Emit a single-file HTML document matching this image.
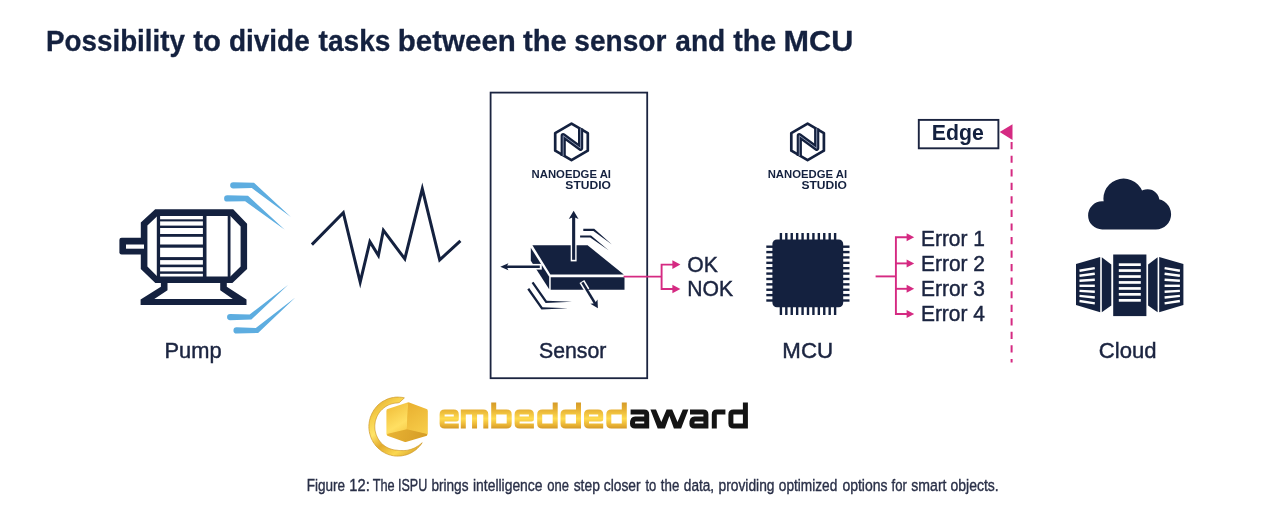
<!DOCTYPE html>
<html>
<head>
<meta charset="utf-8">
<title>Possibility to divide tasks between the sensor and the MCU</title>
<style>
  html, body { margin: 0; padding: 0; background: #ffffff; overflow: hidden; }
  body { width: 1283px; height: 523px; overflow: hidden; position: relative;
         font-family: "Liberation Sans", sans-serif; }
  svg { position: absolute; left: 0; top: 0; display: block; filter: blur(0.45px); }
  text { font-family: "Liberation Sans", sans-serif; }
  #lPump,#lSensor,#lMCU,#lCloud,#tOK,#tNOK,#e1,#e2,#e3,#e4 { stroke: #1b2440; stroke-width: 0.45px; }
  #title { stroke: #14213f; stroke-width: 0.3px; }
  .navy { fill: #14213f; }
  .lbl { font-size: 21px; fill: #1b2440; }
  .err { font-size: 20px; fill: #1b2440; }
</style>
</head>
<body>
<svg width="1283" height="523" viewBox="0 0 1283 523">
  <defs>
    <linearGradient id="goldTxt" x1="0" y1="0" x2="0" y2="1">
      <stop offset="0" stop-color="#d9a326"/>
      <stop offset="0.45" stop-color="#ffd94d"/>
      <stop offset="1" stop-color="#dba428"/>
    </linearGradient>
  </defs>


  <!-- ===== PUMP / MOTOR ===== -->
  <g id="motor" fill="#14213f">
    <!-- shaft -->
    <path d="M121.6,237.8 H146 V254.5 H121.6 Q119.4,254.5 119.4,252.3 V240 Q119.4,237.8 121.6,237.8 Z"/>
    <!-- body octagon (outer) with inner cutout via evenodd -->
    <path fill-rule="evenodd" d="M155.2,209.3 H233.2 L247.1,223.8 V269 L232.4,283.1 H155.3 L140.8,269 V222.5 Z
      M157.4,216 L147.4,225.6 V266.6 L157.4,276.4 H230.4 L240.6,266.6 V226.4 L230.4,216 Z"/>
    <!-- base -->
    <path d="M160.9,283 V286.7 L140.6,299.4 V305 H246.5 V299.4 L226.8,286.7 V283 H220.2 V290.3 L232.8,298.9 H154.3 L167.5,290.3 V283 Z"/>
    <!-- inner vertical lines -->
    <rect x="156.8" y="215" width="3.3" height="62"/>
    <rect x="202.9" y="215" width="3.6" height="62"/>
    <rect x="227.7" y="215" width="2.8" height="62"/>
    <!-- fins -->
    <rect x="159" y="219.3" width="45" height="2.1"/>
    <rect x="159" y="225.6" width="45" height="2.4"/>
    <rect x="159" y="234" width="45" height="2.8"/>
    <rect x="159" y="244.5" width="45" height="3.2"/>
    <rect x="159" y="257.1" width="45" height="3"/>
    <rect x="159" y="264.6" width="45" height="2.6"/>
    <rect x="159" y="271.4" width="45" height="2.4"/>
  </g>
  <!-- shaft slot (white) -->
  <rect x="126" y="244.5" width="18" height="4.2" fill="#ffffff"/>
  <!-- blue vibration lines -->
  <g fill="#5dade0">
    <path d="M233.3,182.2 L254,182.8 L290.9,217 L251.8,188.1 L233.3,188.5 A3.15,3.15 0 0 1 233.3,182.2 Z"/>
    <path d="M227.3,195.2 L248,195.7 L284.8,229.8 L245.1,201.3 L227.3,201.6 A3.2,3.2 0 0 1 227.3,195.2 Z"/>
    <path d="M230.2,313.9 L249.6,314.5 L288.2,284.8 L251.4,319.5 L230.2,320.2 A3.15,3.15 0 0 1 230.2,313.9 Z"/>
    <path d="M236.6,327.3 L255.8,327.9 L295.3,297.6 L258.1,332.9 L236.6,333.6 A3.15,3.15 0 0 1 236.6,327.3 Z"/>
  </g>

  <!-- ===== WAVEFORM ===== -->
  <polyline fill="none" stroke="#14213f" stroke-width="3" stroke-linejoin="miter" stroke-miterlimit="10"
    points="311.9,244.6 343.3,212.7 360.2,282.2 369.9,241.6 378.4,255.5 383.4,230.3 404.8,258.9 422.3,188.8 439.7,259.9 460.4,240.9"/>


  <!-- ===== SENSOR BOX ===== -->
  <rect x="490.6" y="92.6" width="156.6" height="285.6" fill="none" stroke="#1b2440" stroke-width="1.8"/>

  <!-- NanoEdge logo (defined once, reused) -->
  <g id="nelogo">
    <g fill="none" stroke="#14213f" stroke-linejoin="round" stroke-linecap="butt">
      <path stroke-width="2.7" d="M571.5,123.7 L587.8,133.1 V150.7 L571.5,160.1 L555.2,150.7 V133.1 Z"/>
      <path stroke-width="5.2" d="M563.2,156 V135.7 L580.6,148.3 V128.4"/>
      <path stroke-width="1" stroke="#8691ab" d="M563.2,156 V135.7 L580.6,148.3 V128.4"/>
    </g>
    <text x="531.58" y="178.4" font-size="11.8" font-weight="bold" fill="#14213f" textLength="79.4" lengthAdjust="spacingAndGlyphs">NANOEDGE AI</text>
    <text x="565.39" y="188.7" font-size="11.8" font-weight="bold" fill="#14213f" textLength="45.5" lengthAdjust="spacingAndGlyphs">STUDIO</text>
  </g>
  <use href="#nelogo" x="236.1" y="0"/>

  <!-- ===== SENSOR CHIP ===== -->
  <g fill="#14213f">
    <!-- top face -->
    <path d="M532.4,245.3 H587.6 L623.8,274.4 H550.4 Z"/>
    <!-- front face -->
    <path d="M550.7,277.2 H624.5 V289.7 H550.7 Z"/>
    <!-- left face -->
    <path d="M530.8,247.8 L549.2,276.8 V289.2 L530.8,260.8 Z"/>
  </g>
  <!-- white outlines of arrow shafts on chip -->
  <rect x="570.7" y="244" width="5.9" height="17.4" fill="#ffffff"/>
  <path d="M529,263.9 H541.8 V269.6 H529 Z" fill="#ffffff"/>
  <path d="M584.3,280.1 L579.5,282.9 L584.6,291.4 L589.4,288.6 Z" fill="#ffffff"/>
  <g fill="#14213f" stroke="none">
    <!-- up arrow -->
    <rect x="572.1" y="216.5" width="3.1" height="43.3"/>
    <path d="M573.65,210.8 L578.5,219 L573.65,216.9 L568.8,219 Z"/>
    <!-- left arrow -->
    <rect x="506" y="265.5" width="33.8" height="2.5"/>
    <path d="M500.3,266.75 L508.4,263.2 L506.6,266.75 L508.4,270.3 Z"/>
    <!-- down-right arrow -->
    <path d="M583.5,281.8 L581.3,283 L594.1,304.3 L596.3,303.1 Z"/>
    <path d="M597.9,308.2 L590.4,303.7 L594.9,303.2 L597.5,299.4 Z"/>
    <!-- motion lines top right -->
    <path d="M583.3,228.8 H594.2 L611.9,244.6 L593.4,230.9 H583.3 Z"/>
    <path d="M580.1,235.5 H591 L608.6,250.3 L590.2,237.6 H580.1 Z"/>
    <!-- motion lines bottom left -->
    <path d="M533.5,281.8 L546.8,300.7 L572,301.7 L545.6,303 L531.6,283.1 Z"/>
    <path d="M529.2,288.1 L542.6,307.2 L568,308.2 L541.4,309.5 L527.3,289.4 Z"/>
  </g>

  <!-- ===== OK / NOK arrows ===== -->
  <g stroke="#d52a82" stroke-width="1.9" fill="none">
    <path d="M623.6,276.6 H661.6"/>
    <path d="M673,264.6 H661.6 V289 H673"/>
  </g>
  <g fill="#d52a82">
    <path d="M680.4,264.6 L672.4,260.3 V268.9 Z"/>
    <path d="M680.4,289 L672.4,284.7 V293.3 Z"/>
  </g>


  <!-- ===== MCU CHIP ===== -->
  <g fill="#14213f">
    <rect x="779.70" y="233" width="2.4" height="82"/>
    <rect x="785.12" y="233" width="2.4" height="82"/>
    <rect x="790.54" y="233" width="2.4" height="82"/>
    <rect x="795.96" y="233" width="2.4" height="82"/>
    <rect x="801.38" y="233" width="2.4" height="82"/>
    <rect x="806.80" y="233" width="2.4" height="82"/>
    <rect x="812.22" y="233" width="2.4" height="82"/>
    <rect x="817.64" y="233" width="2.4" height="82"/>
    <rect x="823.06" y="233" width="2.4" height="82"/>
    <rect x="828.48" y="233" width="2.4" height="82"/>
    <rect x="833.90" y="233" width="2.4" height="82"/>
    <rect x="766.3" y="245.50" width="83.2" height="2.4"/>
    <rect x="766.3" y="250.88" width="83.2" height="2.4"/>
    <rect x="766.3" y="256.26" width="83.2" height="2.4"/>
    <rect x="766.3" y="261.64" width="83.2" height="2.4"/>
    <rect x="766.3" y="267.02" width="83.2" height="2.4"/>
    <rect x="766.3" y="272.40" width="83.2" height="2.4"/>
    <rect x="766.3" y="277.78" width="83.2" height="2.4"/>
    <rect x="766.3" y="283.16" width="83.2" height="2.4"/>
    <rect x="766.3" y="288.54" width="83.2" height="2.4"/>
    <rect x="766.3" y="293.92" width="83.2" height="2.4"/>
    <rect x="766.3" y="299.30" width="83.2" height="2.4"/>
    <rect x="772.4" y="239.4" width="70.8" height="67.8" rx="4.5" ry="4.5"/>
  </g>

  <!-- ===== ERROR arrows ===== -->
  <g stroke="#d52a82" stroke-width="1.9" fill="none">
    <path d="M875.6,276.4 H895.9"/>
    <path d="M907,237.2 H895.9 V314 H907"/>
    <path d="M895.9,263.4 H907"/>
    <path d="M895.9,288.8 H907"/>
  </g>
  <g fill="#d52a82">
    <path d="M914.2,237.2 L906.6,233.2 V241.2 Z"/>
    <path d="M914.2,263.4 L906.6,259.4 V267.4 Z"/>
    <path d="M914.2,288.8 L906.6,284.8 V292.8 Z"/>
    <path d="M914.2,314 L906.6,310 V318 Z"/>
  </g>

  <!-- ===== EDGE arrow + dashed line ===== -->
  <path d="M999.7,132.1 L1012.5,124.3 V140 Z" fill="#d52a82"/>
  <path d="M1011.6,142.1 V362.4" stroke="#d52a82" stroke-width="2" fill="none" stroke-dasharray="7.2 6.35"/>

  <!-- ===== CLOUD ===== -->
  <path fill="#14213f" fill-rule="nonzero" d="M1103.3999999999999,198.8 a20.2,20.2 0 1 1 40.4,0 a20.2,20.2 0 1 1 -40.4,0 Z M1135.8,201 a11.8,11.8 0 1 1 23.6,0 a11.8,11.8 0 1 1 -23.6,0 Z M1088.1000000000001,215.4 a14.1,14.1 0 1 1 28.2,0 a14.1,14.1 0 1 1 -28.2,0 Z M1140.5,214.3 a15.3,15.3 0 1 1 30.6,0 a15.3,15.3 0 1 1 -30.6,0 Z M1102,205 H1156 V229.6 H1102 Z"/>

  <!-- ===== SERVERS ===== -->
  <g fill="#14213f">
    <rect x="1113.2" y="254.5" width="33.2" height="61.6"/>
    <path d="M1076,264.1 L1100.2,256.9 V312.3 L1076,305.1 Z"/>
    <path d="M1101.8,257.2 L1111.3,264.6 V305.4 L1101.8,312.3 Z"/>
    <path d="M1183.4,264.1 L1159.2,256.9 V312.3 L1183.4,305.1 Z"/>
    <path d="M1157.6,257.2 L1148.1,264.6 V305.4 L1157.6,312.3 Z"/>
  </g>
  <g fill="#ffffff">
    <rect x="1118.8" y="263.3" width="22" height="2.7"/>
    <rect x="1118.8" y="269.2" width="22" height="2.7"/>
    <rect x="1118.8" y="275.2" width="22" height="2.7"/>
    <rect x="1118.8" y="281.1" width="22" height="2.7"/>
    <rect x="1118.8" y="287.1" width="22" height="2.7"/>
    <rect x="1118.8" y="293" width="22" height="2.7"/>
    <rect x="1118.8" y="299" width="22" height="2.7"/>
  </g>
  <g id="srvL" stroke="#ffffff" stroke-width="2.4" fill="none">
    <path d="M1079.5,270.8 L1094.8,268.1"/>
    <path d="M1079.5,275.7 L1094.8,273.8"/>
    <path d="M1079.5,280.7 L1094.8,279.8"/>
    <path d="M1079.5,285.8 L1094.8,285.8"/>
    <path d="M1079.5,290.9 L1094.8,291.7"/>
    <path d="M1079.5,295.9 L1094.8,297.5"/>
    <path d="M1079.5,301 L1094.8,303.4"/>
  </g>
  <g stroke="#ffffff" stroke-width="2.4" fill="none">
    <path d="M1179.9,270.8 L1164.6,268.1"/>
    <path d="M1179.9,275.7 L1164.6,273.8"/>
    <path d="M1179.9,280.7 L1164.6,279.8"/>
    <path d="M1179.9,285.8 L1164.6,285.8"/>
    <path d="M1179.9,290.9 L1164.6,291.7"/>
    <path d="M1179.9,295.9 L1164.6,297.5"/>
    <path d="M1179.9,301 L1164.6,303.4"/>
  </g>


  <!-- ===== EMBEDDED AWARD ===== -->
  <defs>
    <linearGradient id="gTxt" gradientUnits="userSpaceOnUse" x1="0" y1="402" x2="0" y2="429">
      <stop offset="0" stop-color="#d49a28"/>
      <stop offset="0.28" stop-color="#e6b033"/>
      <stop offset="0.62" stop-color="#ffdc50"/>
      <stop offset="0.85" stop-color="#e9b334"/>
      <stop offset="1" stop-color="#d19626"/>
    </linearGradient>
    <linearGradient id="gRing" gradientUnits="userSpaceOnUse" x1="372" y1="398" x2="418" y2="456">
      <stop offset="0" stop-color="#dca42a"/>
      <stop offset="0.22" stop-color="#f6cf4a"/>
      <stop offset="0.4" stop-color="#ffe467"/>
      <stop offset="0.58" stop-color="#e3ab2d"/>
      <stop offset="0.78" stop-color="#fbd850"/>
      <stop offset="1" stop-color="#d39b26"/>
    </linearGradient>
    <linearGradient id="gL" gradientUnits="userSpaceOnUse" x1="387" y1="405" x2="407" y2="438">
      <stop offset="0" stop-color="#f0bd38"/>
      <stop offset="0.6" stop-color="#ffdf62"/>
      <stop offset="1" stop-color="#f3c23d"/>
    </linearGradient>
    <linearGradient id="gR" gradientUnits="userSpaceOnUse" x1="408" y1="403" x2="428" y2="435">
      <stop offset="0" stop-color="#e9b030"/>
      <stop offset="1" stop-color="#f8cf4c"/>
    </linearGradient>
    <linearGradient id="gB" gradientUnits="userSpaceOnUse" x1="388" y1="430" x2="426" y2="442">
      <stop offset="0" stop-color="#e8b334"/>
      <stop offset="1" stop-color="#d59c26"/>
    </linearGradient>
  </defs>
  <!-- ring (crescent) -->
  <path fill="url(#gRing)" stroke="#cf9826" stroke-width="0.7" stroke-linejoin="round" d="M404.4,397.9 L402.9,397.5 L401.3,397.3 L399.7,397.2 L398.2,397.1 L396.6,397.1 L395.0,397.2 L393.4,397.5 L391.9,397.7 L390.3,398.1 L388.8,398.6 L387.3,399.1 L385.9,399.8 L384.5,400.5 L383.1,401.2 L381.7,402.1 L380.4,403.0 L379.2,404.0 L378.0,405.1 L376.9,406.2 L375.8,407.4 L374.9,408.7 L373.9,410.0 L373.1,411.4 L372.3,412.8 L371.6,414.2 L371.0,415.7 L370.4,417.2 L370.0,418.7 L369.6,420.3 L369.3,421.9 L369.1,423.5 L368.9,425.1 L368.9,426.7 L368.9,428.3 L369.1,429.9 L369.3,431.5 L369.6,433.0 L370.0,434.6 L370.5,436.1 L371.0,437.7 L371.6,439.1 L372.4,440.6 L373.1,442.0 L374.0,443.3 L374.9,444.6 L375.9,445.9 L377.0,447.0 L378.1,448.2 L379.3,449.2 L380.5,450.2 L381.8,451.2 L383.2,452.0 L384.6,452.8 L386.0,453.5 L387.4,454.1 L388.9,454.7 L390.5,455.1 L392.0,455.5 L393.6,455.8 L395.1,456.0 L396.7,456.1 L398.3,456.1 L399.9,456.0 L401.4,455.9 L403.0,455.6 L404.5,455.3 L406.1,454.9 L407.6,454.4 L409.1,453.8 L410.5,453.2 L411.9,452.4 L413.3,451.6 L414.6,450.7 L415.9,449.8 L417.1,448.7 L418.2,447.6 L419.3,446.5 L420.4,445.3 L421.3,444.0 L422.2,442.7 L422.2,442.7 L421.0,443.8 L419.7,444.8 L418.5,445.7 L417.1,446.5 L415.8,447.3 L414.4,448.0 L413.1,448.6 L411.7,449.1 L410.3,449.5 L408.9,449.9 L407.5,450.2 L406.2,450.4 L404.8,450.5 L403.4,450.6 L402.1,450.6 L400.8,450.6 L399.5,450.5 L398.2,450.4 L396.9,450.2 L395.7,450.1 L394.4,449.9 L393.2,449.7 L392.0,449.4 L390.8,449.0 L389.6,448.6 L388.4,448.1 L387.3,447.6 L386.2,446.9 L385.1,446.3 L384.1,445.5 L383.1,444.7 L382.1,443.9 L381.2,443.0 L380.4,442.0 L379.6,441.0 L378.9,440.0 L378.2,438.9 L377.6,437.8 L377.0,436.6 L376.5,435.4 L376.0,434.2 L375.7,433.0 L375.4,431.8 L375.1,430.5 L374.9,429.2 L374.8,427.9 L374.8,426.7 L374.8,425.4 L374.9,424.1 L375.1,422.8 L375.3,421.5 L375.6,420.3 L376.0,419.1 L376.4,417.9 L376.9,416.7 L377.5,415.5 L378.1,414.4 L378.8,413.3 L379.5,412.3 L380.3,411.3 L381.2,410.3 L382.1,409.4 L383.0,408.6 L384.0,407.8 L385.0,407.0 L386.1,406.3 L387.2,405.7 L388.3,405.1 L389.5,404.6 L390.7,404.2 L391.9,403.8 L393.1,403.5 L394.3,403.3 L395.6,403.1 L396.8,403.0 L398.1,402.8 L399.4,402.5 Z"/>
  <!-- cube -->
  <g stroke-linejoin="round">
    <path d="M388.2,410.6 L408,404.2 L406.6,429.2 L388.2,434 Z" fill="url(#gL)" stroke="url(#gL)" stroke-width="3.4"/>
    <path d="M408.6,404.2 L426,410.6 V434 L407,429.2 Z" fill="url(#gR)" stroke="url(#gR)" stroke-width="3.4"/>
    <path d="M388.6,434.6 L406.8,430 L425.6,434.6 L405.4,440.6 Z" fill="url(#gB)" stroke="url(#gB)" stroke-width="3"/>
    <path d="M386.8,411 L408.2,403.2 L406.8,429.2 L386.8,434 Z" fill="url(#gL)"/>
    <path d="M408.2,403.2 L427.4,411 V434 L406.8,429.2 Z" fill="url(#gR)"/>
  </g>
  <!-- embedded -->
  <path d="M458.8,426.0 H444.70000000000005 Q442.1,426.0 442.1,423.4 V414.6 Q442.1,412.0 444.70000000000005,412.0 H453.7 Q456.3,412.0 456.3,414.6 V419.0 H442.1 M463.3,428.5 V409.5 M463.3,412.0 H483.2 Q485.8,412.0 485.8,414.6 V428.5 M474.55,412.0 V428.5 M493.7,402.5 V428.5 M493.7,426.0 H506.59999999999997 Q509.2,426.0 509.2,423.4 V414.6 Q509.2,412.0 506.59999999999997,412.0 H493.7 M533.9,426.0 H519.7 Q517.1,426.0 517.1,423.4 V414.6 Q517.1,412.0 519.7,412.0 H528.8 Q531.4,412.0 531.4,414.6 V419.0 H517.1 M555.2,402.5 V428.5 M555.2,426.0 H542.3000000000001 Q539.7,426.0 539.7,423.4 V414.6 Q539.7,412.0 542.3000000000001,412.0 H555.2 M578.5,402.5 V428.5 M578.5,426.0 H565.6 Q563.0,426.0 563.0,423.4 V414.6 Q563.0,412.0 565.6,412.0 H578.5 M603.2,426.0 H589.1 Q586.5,426.0 586.5,423.4 V414.6 Q586.5,412.0 589.1,412.0 H598.1 Q600.7,412.0 600.7,414.6 V419.0 H586.5 M624.3,402.5 V428.5 M624.3,426.0 H611.4 Q608.8,426.0 608.8,423.4 V414.6 Q608.8,412.0 611.4,412.0 H624.3" fill="none" stroke="url(#gTxt)" stroke-width="5" stroke-linejoin="round"/>
  <!-- award -->
  <path d="M630.6,412.0 H644.1 Q646.7,412.0 646.7,414.6 V428.5 M646.7,426.0 H635.1 Q632.5,426.0 632.5,423.8 Q632.5,419.0 635.1,419.0 H646.7 M690.0,412.0 H703.3 Q705.9,412.0 705.9,414.6 V428.5 M705.9,426.0 H694.5 Q691.9,426.0 691.9,423.8 Q691.9,419.0 694.5,419.0 H705.9 M714.3,428.5 V414.6 Q714.3,412.0 716.9,412.0 H725.4 M745.4,402.5 V428.5 M745.4,426.0 H733.5 Q730.9,426.0 730.9,423.4 V414.6 Q730.9,412.0 733.5,412.0 H745.4" fill="none" stroke="#141414" stroke-width="5" stroke-linejoin="round"/>
  <path d="M650.40,409.50 L656.00,409.50 L661.30,422.00 L666.60,409.50 L672.20,409.50 L677.50,422.00 L682.80,409.50 L688.40,409.50 L681.10,428.50 L673.90,428.50 L669.40,416.00 L664.90,428.50 L657.70,428.50 Z" fill="#141414"/>

  <!-- TITLE -->
  <text id="title" y="50.9" font-size="29.4" font-weight="bold" fill="#14213f"><tspan x="46.11" textLength="138.82" lengthAdjust="spacingAndGlyphs">Possibility</tspan><tspan x="193.15" textLength="27.7" lengthAdjust="spacingAndGlyphs">to</tspan><tspan x="228.91" textLength="80.88" lengthAdjust="spacingAndGlyphs">divide</tspan><tspan x="318.56" textLength="71.86" lengthAdjust="spacingAndGlyphs">tasks</tspan><tspan x="397.79" textLength="118.06" lengthAdjust="spacingAndGlyphs">between</tspan><tspan x="522.95" textLength="43.73" lengthAdjust="spacingAndGlyphs">the</tspan><tspan x="574.31" textLength="92.07" lengthAdjust="spacingAndGlyphs">sensor</tspan><tspan x="675.28" textLength="50.05" lengthAdjust="spacingAndGlyphs">and</tspan><tspan x="733.16" textLength="42.91" lengthAdjust="spacingAndGlyphs">the</tspan><tspan x="783.62" textLength="69.7" lengthAdjust="spacingAndGlyphs">MCU</tspan></text>

  <!-- LABELS -->
  <text id="lPump" x="164.48" y="358" font-size="22.2" fill="#1b2440" textLength="57.08" lengthAdjust="spacingAndGlyphs">Pump</text>
  <text id="lSensor" x="538.94" y="358.1" font-size="22.2" fill="#1b2440" textLength="67.46" lengthAdjust="spacingAndGlyphs">Sensor</text>
  <text id="lMCU" x="782.34" y="358.1" font-size="22.2" fill="#1b2440" textLength="50.75" lengthAdjust="spacingAndGlyphs">MCU</text>
  <text id="lCloud" x="1098.86" y="358.1" font-size="22.2" fill="#1b2440" textLength="57.72" lengthAdjust="spacingAndGlyphs">Cloud</text>

  <!-- OK / NOK -->
  <text id="tOK" x="687.27" y="271.9" font-size="22.6" fill="#1b2440" textLength="30.51" lengthAdjust="spacingAndGlyphs">OK</text>
  <text id="tNOK" x="687.16" y="296" font-size="22.6" fill="#1b2440" textLength="45.88" lengthAdjust="spacingAndGlyphs">NOK</text>

  <!-- Errors -->
  <text id="e1" x="920.95" y="246.3" font-size="22.2" fill="#1b2440" textLength="64.0" lengthAdjust="spacingAndGlyphs">Error 1</text>
  <text id="e2" x="920.95" y="271.4" font-size="22.2" fill="#1b2440" textLength="64.06" lengthAdjust="spacingAndGlyphs">Error 2</text>
  <text id="e3" x="920.95" y="296" font-size="22.2" fill="#1b2440" textLength="64.06" lengthAdjust="spacingAndGlyphs">Error 3</text>
  <text id="e4" x="920.95" y="320.8" font-size="22.2" fill="#1b2440" textLength="63.98" lengthAdjust="spacingAndGlyphs">Error 4</text>

  <!-- Edge -->
  <rect x="918.8" y="119.9" width="79.6" height="28.4" fill="#fff" stroke="#1b2440" stroke-width="1.9"/>
  <text id="tEdge" x="931.84" y="139.5" font-size="21.9" font-weight="bold" fill="#14213f" textLength="52.02" lengthAdjust="spacingAndGlyphs">Edge</text>

  <!-- Caption -->
  <text id="cap" y="490.8" font-size="17.4" fill="#2a3048" stroke="#2a3048" stroke-width="0.4"><tspan x="306.73" textLength="38.39" lengthAdjust="spacingAndGlyphs">Figure</tspan><tspan x="349.35" textLength="20.37" lengthAdjust="spacingAndGlyphs">12:</tspan><tspan x="372.63" textLength="21.99" lengthAdjust="spacingAndGlyphs">The</tspan><tspan x="398.02" textLength="29.25" lengthAdjust="spacingAndGlyphs">ISPU</tspan><tspan x="431.42" textLength="37.07" lengthAdjust="spacingAndGlyphs">brings</tspan><tspan x="473.0" textLength="69.51" lengthAdjust="spacingAndGlyphs">intelligence</tspan><tspan x="547.34" textLength="21.74" lengthAdjust="spacingAndGlyphs">one</tspan><tspan x="573.7" textLength="26.2" lengthAdjust="spacingAndGlyphs">step</tspan><tspan x="603.8" textLength="36.81" lengthAdjust="spacingAndGlyphs">closer</tspan><tspan x="645.41" textLength="10.86" lengthAdjust="spacingAndGlyphs">to</tspan><tspan x="660.81" textLength="18.52" lengthAdjust="spacingAndGlyphs">the</tspan><tspan x="683.81" textLength="30.31" lengthAdjust="spacingAndGlyphs">data,</tspan><tspan x="718.51" textLength="56.05" lengthAdjust="spacingAndGlyphs">providing</tspan><tspan x="778.81" textLength="58.52" lengthAdjust="spacingAndGlyphs">optimized</tspan><tspan x="842.4" textLength="45.07" lengthAdjust="spacingAndGlyphs">options</tspan><tspan x="891.51" textLength="15.31" lengthAdjust="spacingAndGlyphs">for</tspan><tspan x="911.3" textLength="35.19" lengthAdjust="spacingAndGlyphs">smart</tspan><tspan x="950.5" textLength="48.16" lengthAdjust="spacingAndGlyphs">objects.</tspan></text>
</svg>
</body>
</html>
